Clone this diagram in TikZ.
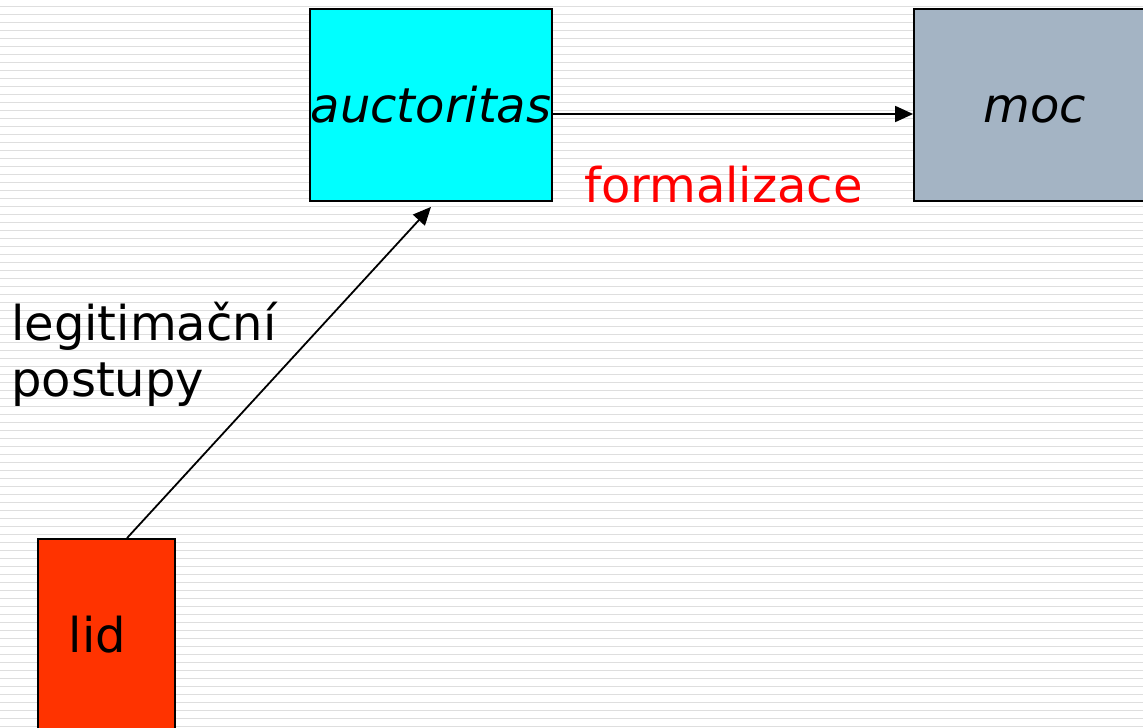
\documentclass[tikz,border=0pt]{standalone}
\usepackage{fontspec}
\setmainfont{DejaVu Sans}
\usetikzlibrary{arrows.meta}
\definecolor{auctcyan}{RGB}{0,255,255}
\definecolor{mocgray}{RGB}{164,180,196}
\definecolor{lidred}{RGB}{255,51,0}
\tikzset{every picture/.append style={x=1pt, y=-1pt}}
\tikzset{
    box/.style={draw, line width=1.8pt, minimum width=242pt, minimum height=192pt,
    	inner sep=0pt, text height=35pt, text depth=0pt},
    arr/.style={line width=1.8pt, -{Triangle[length=18pt, width=16pt]}},
    txt/.style={font=\fontsize{48}{56}\selectfont}
}

\begin{document}
\begin{tikzpicture}[txt]
	\useasboundingbox (0,0) rectangle (1143,728);
	\foreach \y in {6.5,14.5,...,727} \draw[black!13, line width=1.8pt] (0,\y) -- (1143,\y);
	\node [box, fill=auctcyan] (auct) at (431,105) {\itshape auctoritas};
	\node [box, fill=mocgray] (moc) at (1035,105) {\itshape moc};
	\node [box, fill=lidred, minimum width=137pt, label={[txt, xshift=-9pt, text height=35pt, text depth=0pt]center:lid}] (lid) at (106.5,635) {};
	\node [anchor=base, inner sep=0pt, text=red] (form) at (723.5,202) {formalizace};
	\node [anchor=base west, inner sep=0pt, align=left] (legit) at (11,396) {legitimační\\postupy};
	\draw [arr] ([yshift=-9pt]auct.east) -- ([yshift=-9pt]moc.west);
	\draw [arr] ([xshift=20.5pt]lid.north) -- ([yshift=-5pt]auct.south);
\end{tikzpicture}
\end{document}
